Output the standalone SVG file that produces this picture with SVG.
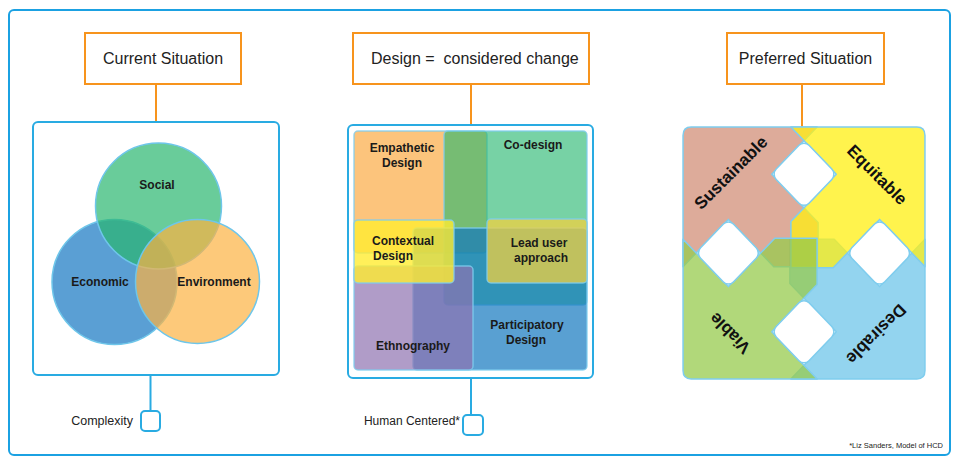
<svg xmlns="http://www.w3.org/2000/svg" width="960" height="462" viewBox="0 0 960 462">
<style>
.frame{fill:#fff;stroke:#1BA1E2;stroke-width:2}
.hdr{fill:#fff;stroke:#F7941D;stroke-width:2}
.htxt{font-family:"Liberation Sans",Arial,sans-serif;font-size:16px;fill:#222}
.panel{fill:#fff;stroke:#29ABE2;stroke-width:2}
.lbl{font-family:"Liberation Sans",Arial,sans-serif;font-weight:bold;font-size:12px;fill:#1a1a1a;text-anchor:middle}
.lbls{font-family:"Liberation Sans",Arial,sans-serif;font-weight:bold;font-size:12px;fill:#1a1a1a}
.big{font-family:"Liberation Sans",Arial,sans-serif;font-weight:bold;font-size:17px;fill:#111;text-anchor:middle;dominant-baseline:central}
.sq{fill:#fff;stroke:#29ABE2;stroke-width:2}
.oc{stroke:#F7941D;stroke-width:2;fill:none}
.bc{stroke:#29ABE2;stroke-width:2;fill:none}
.small{font-family:"Liberation Sans",Arial,sans-serif;font-size:12.5px;fill:#222;text-anchor:end}
.circ{stroke:#6EC6EA;stroke-width:1.5}
.rct{stroke:#7FCDEE;stroke-width:1.5;stroke-opacity:0.8}
.pc{stroke:#7FCDEE;stroke-width:1.5;fill-opacity:0.75;stroke-linejoin:round}
.hole{fill:#fff;stroke:#7FCDEE;stroke-width:1.5}
</style>

<rect id="outer-frame" class="frame" x="9" y="10" width="941" height="445" rx="5"/>

<g id="connectors">
  <line class="oc" x1="156" y1="84" x2="156" y2="122"/>
  <line class="oc" x1="471" y1="84" x2="471" y2="125"/>
  <line class="oc" x1="802" y1="84" x2="802" y2="127"/>
  <line class="bc" x1="150.5" y1="375" x2="150.5" y2="411"/>
  <line class="bc" x1="471" y1="378" x2="471" y2="415"/>
</g>

<g id="hdr-current">
  <rect class="hdr" x="85" y="33" width="156" height="51"/>
  <text class="htxt" x="163" y="64" text-anchor="middle">Current Situation</text>
</g>
<g id="hdr-design">
  <rect class="hdr" x="353" y="33" width="236" height="51"/>
  <text class="htxt" x="371" y="64" xml:space="preserve" style="white-space:pre">Design =  considered change</text>
</g>
<g id="hdr-preferred">
  <rect class="hdr" x="727" y="33" width="157" height="51"/>
  <text class="htxt" x="805.5" y="64" text-anchor="middle">Preferred Situation</text>
</g>

<g id="current-panel">
  <rect class="panel" x="33" y="122" width="246" height="253" rx="5"/>
  <circle class="circ" cx="114.5" cy="282" r="62.5" style="fill:#5A9FD4;fill-opacity:1"/>
  <circle class="circ" cx="158.5" cy="206" r="63" style="fill:#2AB66F;fill-opacity:0.7"/>
  <circle class="circ" cx="197.5" cy="281.5" r="62" style="fill:#FCB241;fill-opacity:0.7"/>
  <text class="lbl" x="157" y="189">Social</text>
  <text class="lbl" x="100" y="286">Economic</text>
  <text class="lbl" x="214" y="286">Environment</text>
</g>

<g id="design-panel">
  <rect class="panel" x="348" y="125" width="245" height="253" rx="5"/>
  <rect class="rct" x="354" y="131" width="133" height="122" rx="4" fill="#FBAB44" fill-opacity="0.7"/>
  <rect class="rct" x="444" y="131" width="143" height="174" rx="4" fill="#24B66D" fill-opacity="0.62"/>
  <rect class="rct" x="413" y="228" width="174" height="142" rx="4" fill="#1377BF" fill-opacity="0.7"/>
  <rect class="rct" x="354" y="266" width="119" height="104" rx="4" fill="#8E72B0" fill-opacity="0.7"/>
  <rect class="rct" x="354" y="220" width="100" height="63" rx="4" fill="#FFEC31" fill-opacity="0.8"/>
  <rect class="rct" x="487" y="219" width="100" height="64" rx="4" fill="#F0D040" fill-opacity="0.75"/>
  <text class="lbl" x="402" y="152">Empathetic</text>
  <text class="lbl" x="402" y="167">Design</text>
  <text class="lbl" x="533" y="149">Co-design</text>
  <text class="lbls" x="372" y="245">Contextual</text>
  <text class="lbls" x="373" y="260">Design</text>
  <text class="lbl" x="539" y="247">Lead user</text>
  <text class="lbl" x="541" y="262">approach</text>
  <text class="lbl" x="527" y="329">Participatory</text>
  <text class="lbl" x="526" y="344">Design</text>
  <text class="lbl" x="413" y="350">Ethnography</text>
</g>

<g id="preferred-panel">
  <g transform="translate(804,253) scale(1.008,1.05)">
    <path id="piece-desirable" class="pc" fill="#6FC6EA" vector-effect="non-scaling-stroke" d="M120,112 Q120,120 112,120 L-13,120 L32,75 L-14,29 L-14,-13 L30,-13 L75,32 L120,-13 Z"/>
    <path id="piece-sustainable" class="pc" fill="#D28F78" vector-effect="non-scaling-stroke" d="M-120,-112 Q-120,-120 -112,-120 L13,-120 L-32,-75 L14,-29 L14,13 L-30,13 L-75,-32 L-120,13 Z"/>
    <path id="piece-equitable" class="pc" fill="#FFEF12" vector-effect="non-scaling-stroke" d="M112,-120 Q120,-120 120,-112 L120,13 L75,-32 L29,14 L-13,14 L-13,-30 L32,-75 L-13,-120 Z"/>
    <path id="piece-viable" class="pc" fill="#97CB4E" vector-effect="non-scaling-stroke" d="M-112,120 Q-120,120 -120,112 L-120,-13 L-75,32 L-29,-14 L13,-14 L13,30 L-32,75 L13,120 Z"/>
    <rect class="hole" vector-effect="non-scaling-stroke" x="-23" y="-23" width="46" height="46" rx="7" transform="translate(0,-75) rotate(45)"/>
    <rect class="hole" vector-effect="non-scaling-stroke" x="-23" y="-23" width="46" height="46" rx="7" transform="translate(-75,0) rotate(45)"/>
    <rect class="hole" vector-effect="non-scaling-stroke" x="-23" y="-23" width="46" height="46" rx="7" transform="translate(75,0) rotate(45)"/>
    <rect class="hole" vector-effect="non-scaling-stroke" x="-23" y="-23" width="46" height="46" rx="7" transform="translate(0,75) rotate(45)"/>
  </g>
  <text class="big" transform="translate(731,173) rotate(-45)">Sustainable</text>
  <text class="big" transform="translate(877,175) rotate(45)">Equitable</text>
  <text class="big" transform="translate(730,333) rotate(-135)">Viable</text>
  <text class="big" transform="translate(876,334) rotate(135)">Desirable</text>
</g>

<g id="node-complexity">
  <rect class="sq" x="141" y="411" width="19" height="20" rx="4"/>
  <text class="small" x="133" y="425">Complexity</text>
</g>
<g id="node-human-centered">
  <rect class="sq" x="463" y="415" width="20" height="20" rx="4"/>
  <text class="small" x="460" y="425" style="font-size:12px">Human Centered*</text>
</g>
<text id="credit" x="943" y="448" text-anchor="end" font-family="Liberation Sans, Arial, sans-serif" font-size="7.5" fill="#222">*Liz Sanders, Model of HCD</text>
</svg>
